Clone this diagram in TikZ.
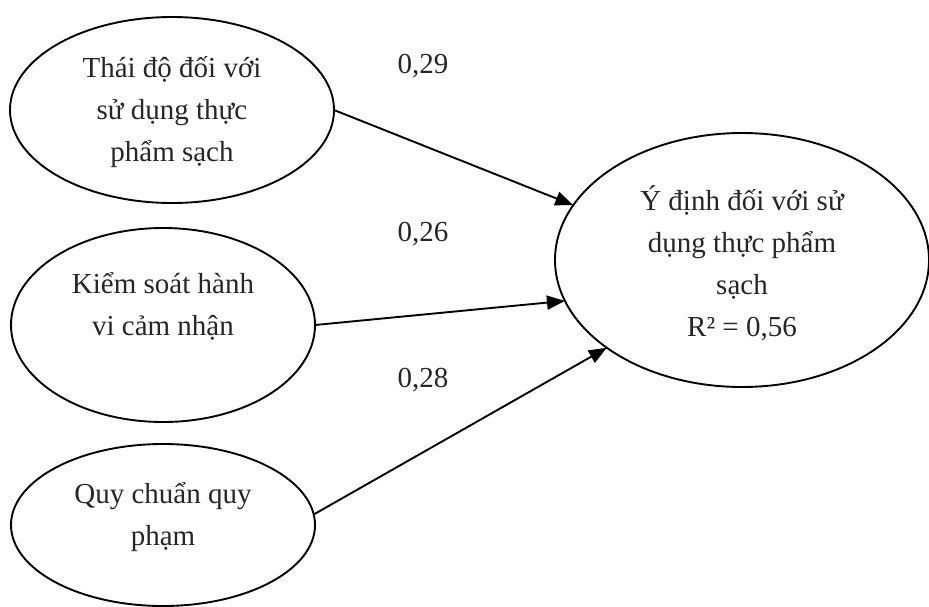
\documentclass[tikz,border=0pt]{standalone}
\usepackage{fontspec}
\setmainfont{Liberation Serif}
\usetikzlibrary{shapes.geometric,arrows.meta}
\begin{document}
\begin{tikzpicture}[x=1pt,y=-1pt,
  oval/.style={draw,ellipse,line width=1.9pt,inner sep=0pt,outer sep=0pt},
  lbl/.style={align=center,font=\fontsize{29}{42}\selectfont,inner sep=0pt,text=black!85},
  conn/.style={line width=1.9pt,-{Triangle[length=18pt,width=14pt]}}]
\useasboundingbox (0,0) rectangle (929,606);
\node[oval,minimum width=324pt,minimum height=186pt] (e1) at (172,110) {};
\node[oval,minimum width=304pt,minimum height=194pt] (e2) at (163,325) {};
\node[oval,minimum width=304pt,minimum height=162pt] (e3) at (163,525) {};
\node[oval,minimum width=374pt,minimum height=254pt] (t) at (742,260) {};
\node[lbl] (l1) at (172,112) {Thái độ đối với\\sử dụng thực\\phẩm sạch};
\node[lbl] (l2) at (163,306) {Kiểm soát hành\\vi cảm nhận};
\node[lbl] (l3) at (163,517) {Quy chuẩn quy\\phạm};
\node[lbl] (l4) at (742,263) {Ý định đối với sử\\dụng thực phẩm\\sạch\\R² = 0,56};
\node[lbl] (w1) at (423,66) {0,29};
\node[lbl] (w2) at (423,234) {0,26};
\node[lbl] (w3) at (423,380) {0,28};
\draw[conn] (e1.east) -- (t.162);
\draw[conn] (e2.east) -- (t.193);
\draw[conn] (e3.4) -- (t.213);
\end{tikzpicture}
\end{document}
